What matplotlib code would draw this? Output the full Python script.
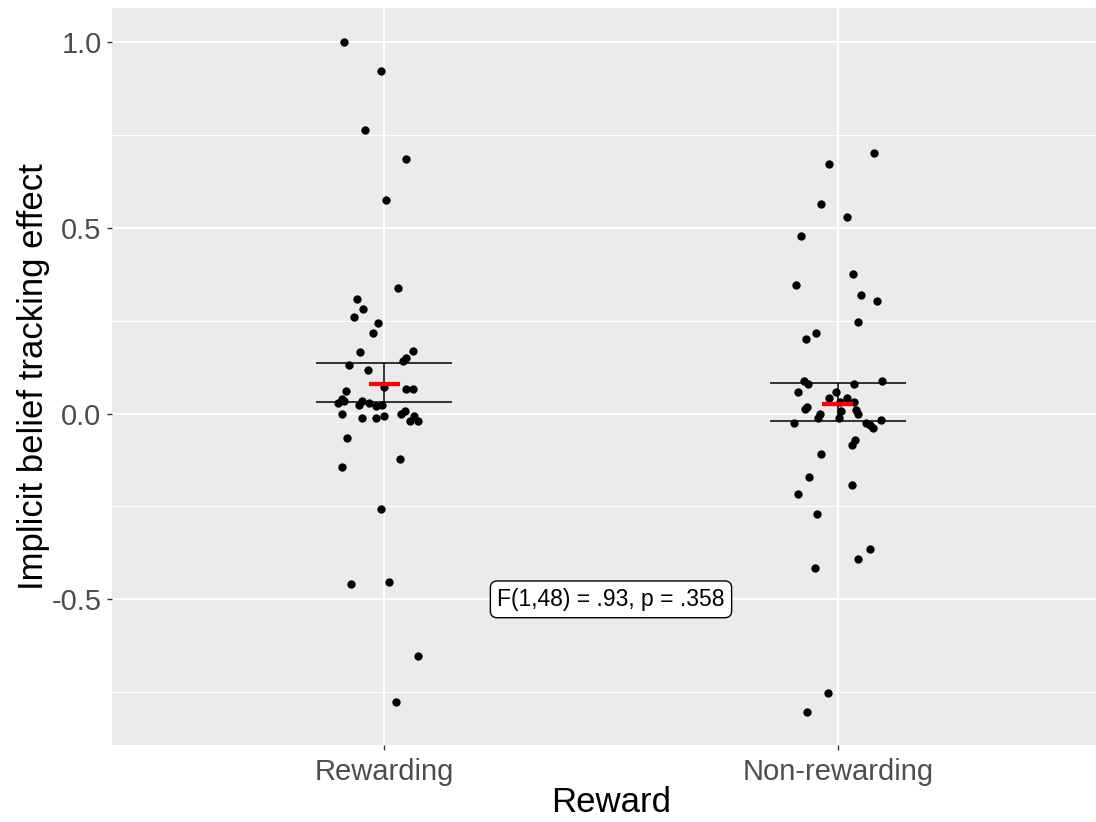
import matplotlib
matplotlib.use("Agg")
import matplotlib.pyplot as plt
from matplotlib.ticker import MultipleLocator

plt.rcParams['font.family'] = ['Liberation Sans', 'DejaVu Sans']

categories = ["Rewarding", "Non-rewarding"]

rew_values = [1.000, 0.922, 0.763, 0.686, 0.574, 0.337, 0.307, 0.281, 0.261, 0.243,
              0.217, 0.166, 0.169, 0.149, 0.141, 0.131, 0.117, 0.071, 0.065, 0.066,
              0.061, 0.038, 0.029, 0.034, 0.034, 0.023, 0.029, 0.020, 0.023, -0.002,
              -0.013, -0.011, -0.007, -0.002, 0.007, -0.019, -0.007, -0.019, -0.067, -0.122,
              -0.145, -0.257, -0.459, -0.454, -0.653, -0.777]
rew_jitter = [-0.089, -0.007, -0.043, 0.048, 0.003, 0.031, -0.060, -0.046, -0.067, -0.014,
              -0.025, -0.053, 0.063, 0.049, 0.041, -0.078, -0.036, 0.000, 0.047, 0.063,
              -0.084, -0.093, -0.101, -0.089, -0.049, -0.056, -0.034, -0.018, -0.004, -0.093,
              -0.050, -0.018, 0.000, 0.036, 0.046, 0.056, 0.066, 0.074, -0.081, 0.035,
              -0.093, -0.007, -0.074, 0.010, 0.074, 0.027]

non_values = [0.702, 0.672, 0.565, 0.530, 0.479, 0.376, 0.346, 0.320, 0.302, 0.246,
              0.217, 0.200, 0.088, 0.079, 0.079, 0.087, 0.058, 0.057, 0.041, 0.043,
              0.032, 0.018, 0.013, 0.008, 0.009, -0.002, -0.002, -0.011, -0.013, -0.025,
              -0.026, -0.031, -0.038, -0.016, -0.071, -0.085, -0.110, -0.170, -0.192, -0.217,
              -0.270, -0.365, -0.391, -0.416, -0.752, -0.803, 0.031]
non_jitter = [0.080, -0.019, -0.036, 0.021, -0.082, 0.034, -0.092, 0.052, 0.087, 0.045,
              -0.049, -0.071, -0.074, -0.065, 0.036, 0.098, -0.088, -0.004, -0.019, 0.020,
              0.036, -0.067, -0.072, 0.007, 0.040, 0.045, -0.040, -0.044, 0.003, -0.096,
              0.063, 0.072, 0.078, 0.095, 0.038, 0.032, -0.036, -0.063, 0.031, -0.088,
              -0.046, 0.070, 0.045, -0.050, -0.021, -0.067, 0.005]

means = [0.079, 0.027]
ci_low = [0.032, -0.020]
ci_high = [0.135, 0.083]

annotation = "F(1,48) = .93, p = .358"

W, H = 1096, 822
fig = plt.figure(figsize=(W / 100, H / 100), dpi=100)
left, right, top, bottom = 112, 1110, 8, 745
ax = fig.add_axes([left / W, 1 - bottom / H, (right - left) / W, (bottom - top) / H])
ax.set_facecolor("#EBEBEB")
for s in ax.spines.values():
    s.set_visible(False)

xpos = [1, 2]
ax.set_xlim(0.4, 2.6)
ax.set_ylim(-0.892, 1.0915)
ax.yaxis.set_major_locator(MultipleLocator(0.5))
ax.yaxis.set_minor_locator(MultipleLocator(0.25))
ax.set_xticks(xpos)
ax.set_xticklabels(categories)
ax.set_yticks([-0.5, 0.0, 0.5, 1.0])
ax.set_yticklabels(["-0.5", "0.0", "0.5", "1.0"])
ax.grid(which="major", color="white", linewidth=1.5)
ax.grid(which="minor", axis="y", color="white", linewidth=0.75)
ax.set_axisbelow(True)
ax.tick_params(axis="both", which="major", colors="#333333", length=3.5, width=1.0,
               labelsize=21, labelcolor="#4D4D4D", pad=4)
ax.tick_params(axis="x", which="major", pad=5.5)
ax.tick_params(axis="y", which="minor", length=0)

# points
for xc, vals, jit in [(1, rew_values, rew_jitter), (2, non_values, non_jitter)]:
    ax.scatter([xc + j for j in jit], vals, s=36, color="black", zorder=3, linewidths=0)

# error bars
for xc, lo, hi, m in zip(xpos, ci_low, ci_high, means):
    ax.hlines([lo, hi], xc - 0.15, xc + 0.15, color="black", linewidth=1.1, zorder=4)
    ax.vlines(xc, lo, hi, color="black", linewidth=1.1, zorder=4)
    ax.hlines(m, xc - 0.034, xc + 0.034, color="red", linewidth=3.1, zorder=5)

ax.text(1.5, -0.5, annotation, ha="center", va="center", fontsize=16.5, color="black",
        bbox=dict(boxstyle="round,pad=0.3,rounding_size=0.3", facecolor="white",
                  edgecolor="black", linewidth=1.0), zorder=6)

ax.set_xlabel("Reward", fontsize=25, color="black", labelpad=0)
ax.set_ylabel("Implicit belief tracking effect", fontsize=25, color="black", labelpad=1)

fig.savefig("out.png", dpi=100)
